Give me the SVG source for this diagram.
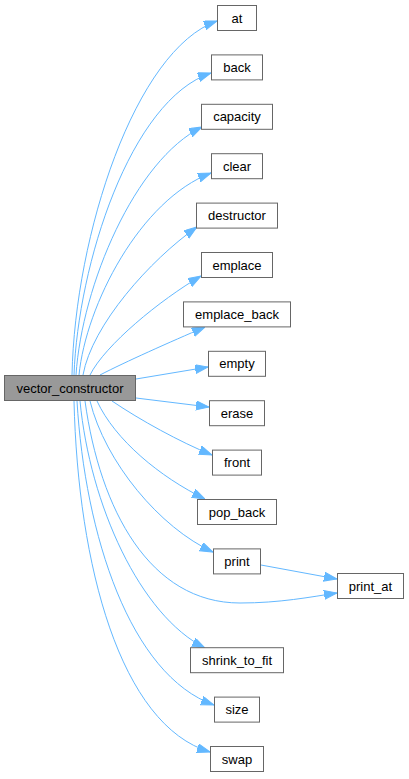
<svg xmlns="http://www.w3.org/2000/svg" width="409" height="779" viewBox="0 0 409 779">
<style>
.n rect{fill:#ffffff;stroke:#666666;stroke-width:1}
.n.main rect{fill:#999999}
.n text{font-family:"Liberation Sans",Arial,sans-serif;font-size:13px;fill:#000000;text-anchor:middle}
.e path{fill:none;stroke:#63b8ff;stroke-width:1;marker-end:url(#arr)}
</style>
<defs>
<marker id="arr" markerUnits="userSpaceOnUse" markerWidth="13" markerHeight="10" refX="13" refY="4.5" orient="auto">
<path d="M0,0 L13,4.5 L0,9 z" fill="#63b8ff" stroke="#63b8ff" stroke-width="1"/>
</marker>
</defs>
<rect width="409" height="779" fill="#ffffff"/>
<g id="edges" class="e">
<path d="M72,375 C75,235 135,50 217,21"/>
<path d="M74,375 C78,265 130,100 211,73"/>
<path d="M76,375 C82,285 135,160 202,127"/>
<path d="M79,375 C86,305 140,200 211,173"/>
<path d="M83,375 C92,325 150,260 197,227"/>
<path d="M90,375 C105,345 160,300 201,276"/>
<path d="M100,375 C125,362 170,342 205,327"/>
<path d="M136,379 L208,367"/>
<path d="M136,398 L209,407"/>
<path d="M112,401 C140,420 180,442 212,455"/>
<path d="M97,401 C115,440 160,477 205,499"/>
<path d="M90,401 C105,462 160,528 213,552"/>
<path d="M85,401 C100,510 150,603 240,603 C280,603 310,597 337,593"/>
<path d="M80,401 C90,505 140,615 205,648"/>
<path d="M77,401 C85,535 130,675 214,705"/>
<path d="M74,401 C78,565 120,725 210,752"/>
<path d="M261,565 L337,579"/>
</g>
<g id="vector_constructor" class="n main"><rect x="4.5" y="375.5" width="131" height="25"/><text x="70" y="392.5">vector_constructor</text></g>
<g id="at" class="n"><rect x="217.5" y="5.5" width="39" height="25"/><text x="237" y="22.5">at</text></g>
<g id="back" class="n"><rect x="211.5" y="54.9" width="51" height="25"/><text x="237" y="71.9">back</text></g>
<g id="capacity" class="n"><rect x="201.5" y="104.3" width="71" height="25"/><text x="237" y="121.3">capacity</text></g>
<g id="clear" class="n"><rect x="211.5" y="153.7" width="51" height="25"/><text x="237" y="170.7">clear</text></g>
<g id="destructor" class="n"><rect x="196.5" y="203.1" width="81" height="25"/><text x="237" y="220.1">destructor</text></g>
<g id="emplace" class="n"><rect x="201.5" y="252.5" width="71" height="25"/><text x="237" y="269.5">emplace</text></g>
<g id="emplace_back" class="n"><rect x="183.5" y="301.9" width="107" height="25"/><text x="237" y="318.9">emplace_back</text></g>
<g id="empty" class="n"><rect x="208.5" y="351.3" width="57" height="25"/><text x="237" y="368.3">empty</text></g>
<g id="erase" class="n"><rect x="209.5" y="400.7" width="55" height="25"/><text x="237" y="417.7">erase</text></g>
<g id="front" class="n"><rect x="212.5" y="450.1" width="49" height="25"/><text x="237" y="467.1">front</text></g>
<g id="pop_back" class="n"><rect x="197.5" y="499.5" width="79" height="25"/><text x="237" y="516.5">pop_back</text></g>
<g id="print" class="n"><rect x="213.5" y="548.9" width="47" height="25"/><text x="237" y="565.9">print</text></g>
<g id="print_at" class="n"><rect x="337.5" y="573.5" width="66" height="25"/><text x="370.5" y="590.5">print_at</text></g>
<g id="shrink_to_fit" class="n"><rect x="190.5" y="647.7" width="93" height="25"/><text x="237" y="664.7">shrink_to_fit</text></g>
<g id="size" class="n"><rect x="214.5" y="697.1" width="45" height="25"/><text x="237" y="714.1">size</text></g>
<g id="swap" class="n"><rect x="210.5" y="746.5" width="53" height="25"/><text x="237" y="763.5">swap</text></g>
</svg>
